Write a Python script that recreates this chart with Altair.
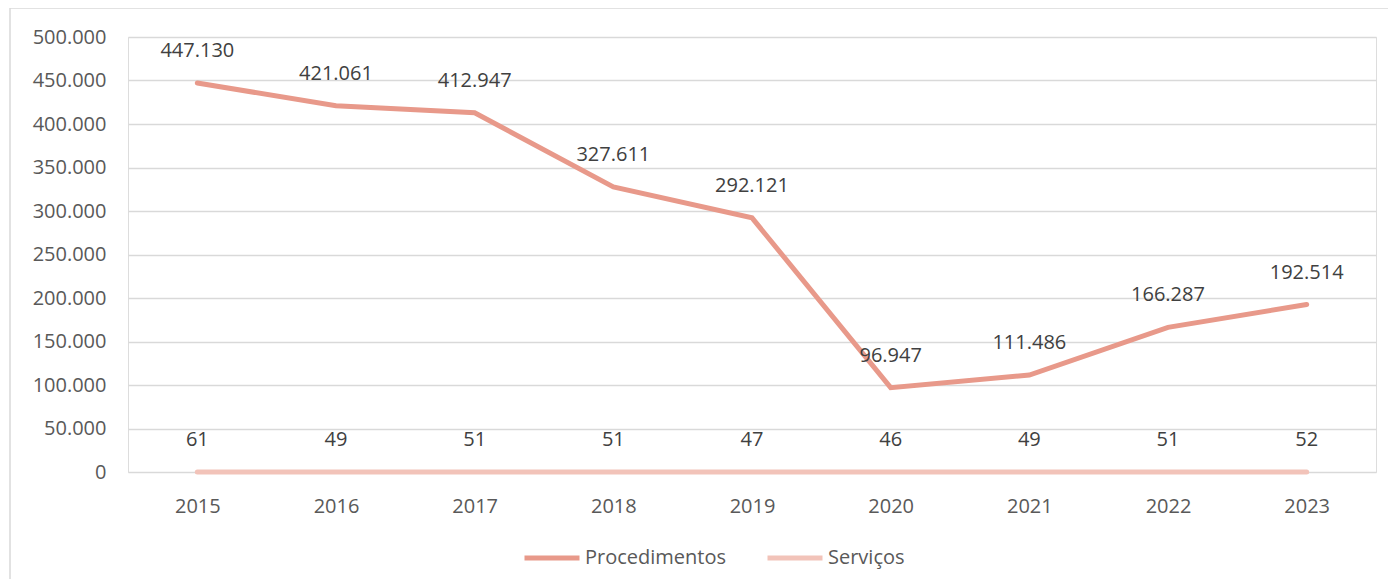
import altair as alt
import pandas as pd

years = ["2015", "2016", "2017", "2018", "2019", "2020", "2021", "2022", "2023"]
procedimentos = [447130, 421061, 412947, 327611, 292121, 96947, 111486, 166287, 192514]
servicos = [61, 49, 51, 51, 47, 46, 49, 51, 52]
series_names = ["Procedimentos", "Serviços"]
series_colors = ["#E8998A", "#F2C3B9"]
y_ticks = [0, 50000, 100000, 150000, 200000, 250000, 300000, 350000, 400000, 450000, 500000]

rows = []
for name, vals in zip(series_names, [procedimentos, servicos]):
    for yr, v in zip(years, vals):
        rows.append({"ano": yr, "serie": name, "valor": v,
                     "rotulo": f"{v:,}".replace(",", ".")})
df = pd.DataFrame(rows)

FONT = "Open Sans"
W, H = 1248, 435

xscale = alt.Scale(domain=years, padding=0.5)
x = alt.X("ano:N", sort=years, title=None, scale=xscale,
          axis=alt.Axis(labelAngle=0, domain=False, ticks=False, labelPadding=24,
                        labelFontSize=20, labelColor="#595959", labelFont=FONT, grid=False))
y = alt.Y("valor:Q", title=None, scale=alt.Scale(domain=[0, 500000], nice=False),
          axis=alt.Axis(values=y_ticks, domain=False, ticks=False, labelPadding=22,
                        labelFontSize=20, labelColor="#595959", labelFont=FONT,
                        gridColor="#D9D9D9", gridWidth=1.5,
                        labelExpr="replace(format(datum.value, ','), ',', '.')"))
color = alt.Color("serie:N", sort=series_names, title=None,
                  scale=alt.Scale(domain=series_names, range=series_colors),
                  legend=alt.Legend(orient="none", legendX=394, legendY=491, direction="horizontal",
                                    symbolType="stroke", symbolSize=3025, symbolStrokeWidth=5,
                                    labelFontSize=20, labelFont=FONT, labelColor="#595959",
                                    labelOffset=3, columnPadding=30))

base = alt.Chart(df)
lines = base.mark_line(strokeWidth=5, strokeCap="round").encode(x=x, y=y, color=color)
labels = base.mark_text(dy=-32, baseline="middle", fontSize=20, font=FONT, color="#404040").encode(
    x=alt.X("ano:N", sort=years, scale=xscale), y="valor:Q", text="rotulo:N")

frame_top = alt.Chart(df.head(1)).mark_rule(color="#D9D9D9", strokeWidth=1.5).encode(
    x=alt.value(-118), x2=alt.value(W + 20), y=alt.value(-29))
frame_left = alt.Chart(df.head(1)).mark_rule(color="#D9D9D9", strokeWidth=1.5).encode(
    x=alt.value(-118), y=alt.value(-29), y2=alt.value(H + 130))

chart = alt.layer(frame_top, frame_left, lines, labels).properties(
    width=W, height=H,
    autosize=alt.AutoSizeParams(type="none"),
    padding={"left": 120, "top": 29, "right": 12, "bottom": 107},
).configure_view(stroke=None).configure(background="white")

chart.save("out.html", embed_options={"renderer": "svg", "actions": False})
